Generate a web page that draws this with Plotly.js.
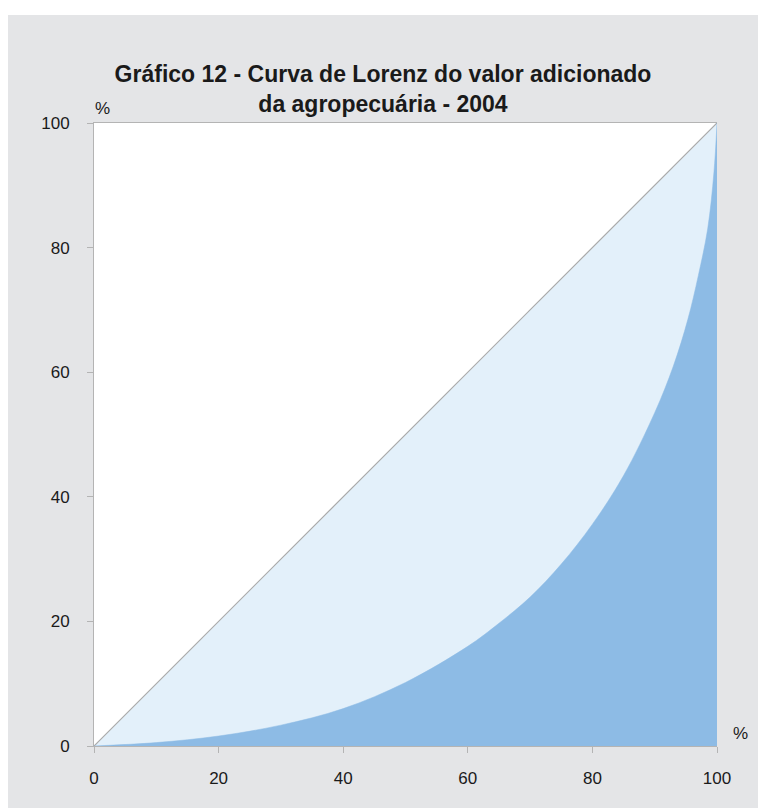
<!DOCTYPE html>
<html>
<head>
<meta charset="utf-8">
<script src="https://cdn.plot.ly/plotly-3.0.1.min.js"></script>
<style>
  html, body { margin: 0; padding: 0; background: #ffffff; }
  #chart { position: absolute; left: 8px; top: 15px; width: 750px; height: 793px; }
</style>
</head>
<body>
<div id="chart"></div>
<script>
// Cumulative share of establishments (%)
const popShare = [0, 10, 20, 30, 40, 50, 60, 65, 70, 75, 80, 85, 90, 93, 95.3, 97, 98.5, 99.5, 100];
// Cumulative share of value added (%) - Lorenz curve
const valueShare = [0, 0.55, 1.6, 3.35, 6.0, 10.2, 16.0, 19.7, 23.9, 29.2, 35.6, 43.4, 53.5, 61.0, 68.4, 75.5, 83.0, 92.0, 100];
// Line of perfect equality
const equalX = [0, 100];
const equalY = [0, 100];
const tickVals = [0, 20, 40, 60, 80, 100];

const traces = [
  {
    x: equalX, y: equalY, type: 'scatter', mode: 'lines',
    fill: 'tozeroy', fillcolor: '#e3f0fa',
    line: { color: '#a9a9a9', width: 1.2 },
    hoverinfo: 'skip', showlegend: false
  },
  {
    x: popShare, y: valueShare, type: 'scatter', mode: 'lines',
    fill: 'tozeroy', fillcolor: '#8dbbe5',
    line: { color: '#8dbbe5', width: 0.5, shape: 'spline', smoothing: 1 },
    hoverinfo: 'skip', showlegend: false
  }
];

const axisCommon = {
  range: [0, 100], tickvals: tickVals, ticktext: tickVals.map(String),
  showgrid: false, zeroline: false, showline: true,
  linecolor: '#b4b4b4', linewidth: 1,
  ticks: 'outside', ticklen: 6, tickcolor: '#b4b4b4', tickwidth: 1,
  tickfont: { family: 'Liberation Sans, Arial, sans-serif', size: 17, color: '#1a1a1a' },
  fixedrange: true
};

const layout = {
  width: 750, height: 793,
  paper_bgcolor: '#e4e5e7', plot_bgcolor: '#ffffff',
  margin: { l: 86, r: 41, t: 108, b: 62 },
  title: {
    text: '<b>Gráfico 12 - Curva de Lorenz do valor adicionado<br>da agropecuária - 2004</b>',
    font: { family: 'Liberation Sans Narrow, Liberation Sans, Arial, sans-serif', size: 23, color: '#1a1a1a' },
    x: 0.5, xanchor: 'center', yref: 'container', y: 0.915, yanchor: 'middle'
  },
  xaxis: Object.assign({}, axisCommon, { mirror: true, ticklabelstandoff: 11 }),
  yaxis: Object.assign({}, axisCommon, { ticklabelstandoff: 14 }),
  annotations: [
    { text: '%', xref: 'paper', yref: 'paper', x: 0.014, y: 1.023, showarrow: false,
      xanchor: 'center', yanchor: 'middle',
      font: { family: 'Liberation Sans, Arial, sans-serif', size: 17, color: '#1a1a1a' } },
    { text: '%', xref: 'paper', yref: 'paper', x: 1.037, y: 0.02, showarrow: false,
      xanchor: 'center', yanchor: 'middle',
      font: { family: 'Liberation Sans, Arial, sans-serif', size: 17, color: '#1a1a1a' } }
  ]
};

Plotly.newPlot('chart', traces, layout, { displayModeBar: false, staticPlot: true });
</script>
</body>
</html>
